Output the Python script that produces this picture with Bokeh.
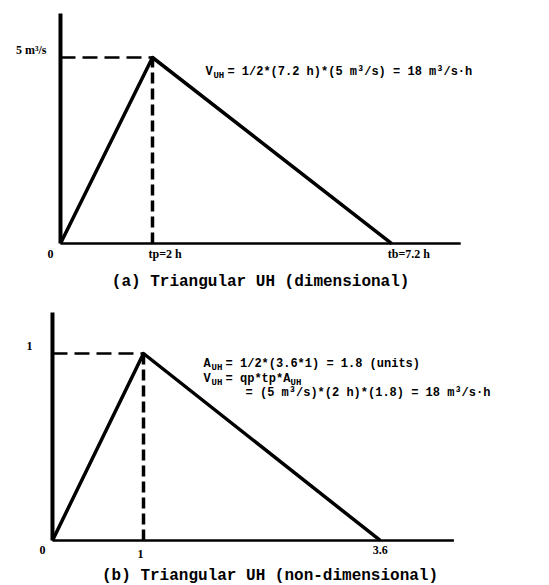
from bokeh.plotting import figure
from bokeh.models import Range1d
from bokeh.layouts import column
from bokeh.core.properties import value
from bokeh.embed import file_html
from bokeh.resources import INLINE

# Dimensional triangular unit hydrograph (hours, m3/s)
dim_t = [0, 2, 7.2]
dim_q = [0, 5, 0]
dim_tick_labels = ["0", "tp=2 h", "tb=7.2 h"]
dim_q_label = "5 m³/s"

# Non-dimensional triangular unit hydrograph (t/tp, q/qp)
nd_t = [0, 1, 3.6]
nd_q = [0, 1, 0]
nd_tick_labels = ["0", "1", "3.6"]
nd_q_label = "1"

captions = ["(a) Triangular UH (dimensional)",
            "(b) Triangular UH (non-dimensional)"]

MONO = value("Liberation Mono")
SERIF = value("Liberation Serif")


def base_fig(h, xr, yr):
    p = figure(width=549, height=h, x_range=Range1d(*xr), y_range=Range1d(*yr),
               output_backend="svg", toolbar_location=None, min_border=0,
               outline_line_color=None, background_fill_color="white",
               border_fill_color="white")
    p.xaxis.visible = False
    p.yaxis.visible = False
    p.grid.visible = False
    return p


def draw_uh(p, t, q, x_end, y_top):
    tp, qp = t[1], q[1]
    # axes
    p.line([0, 0], [0, y_top], line_width=4, color="black")
    p.line([0, x_end], [0, 0], line_width=2.5, color="black")
    # hydrograph
    p.line(t, q, line_width=3.5, color="black", line_join="round")
    # peak guides
    p.line([0, tp], [qp, qp], line_width=2.5, color="black", line_dash="15 7")
    p.line([tp, tp], [0, qp], line_width=3.5, color="black", line_dash="11 5")


def label(p, x, y, txt, dx=0, dy=0, size="12px", font=MONO, align="left"):
    p.text(x=[x], y=[y], text=[txt], x_offset=dx, y_offset=dy,
           text_align=align, text_baseline="middle", text_font=font,
           text_font_size=size, text_font_style="bold", text_color="black")


# ---- panel (a) ----
pa = base_fig(290, (-1.304, 10.63), (-1.263, 6.532))
draw_uh(pa, dim_t, dim_q, 8.7, 6.18)
label(pa, 0, 0, dim_tick_labels[0], dx=-10, dy=10, size="12px", font=SERIF, align="center")
label(pa, dim_t[1], 0, dim_tick_labels[1], dx=-4, dy=10, size="12px", font=SERIF)
label(pa, dim_t[2], 0, dim_tick_labels[2], dx=-4, dy=10, size="12px", font=SERIF)
label(pa, 0, dim_q[1], dim_q_label, dx=-14, dy=-7, size="12px", font=SERIF, align="right")
ax = 3.15
label(pa, ax, dim_q[1], "V", dy=15)
label(pa, ax, dim_q[1], "UH", dx=8, dy=19, size="9px")
label(pa, ax, dim_q[1], "= 1/2*(7.2 h)*(5 m³/s) = 18 m³/s·h", dx=22, dy=15)
label(pa, 4.35, -1.03, captions[0], size="16px", align="center")

# ---- panel (b) ----
pb = base_fig(295, (-0.571, 5.46), (-0.241, 1.337))
draw_uh(pb, nd_t, nd_q, 4.41, 1.219)
label(pb, nd_t[0], 0, nd_tick_labels[0], dx=-10, dy=10, size="12px", font=SERIF, align="center")
label(pb, nd_t[1], 0, nd_tick_labels[1], dx=-3, dy=14, size="12px", font=SERIF, align="center")
label(pb, nd_t[2], 0, nd_tick_labels[2], dy=10, size="12px", font=SERIF, align="center")
label(pb, 0, nd_q[1], nd_q_label, dx=-20, dy=-8, size="12px", font=SERIF, align="right")
bx = 1.66
label(pb, bx, nd_q[1], "A", dy=10)
label(pb, bx, nd_q[1], "UH", dx=8, dy=14, size="9px")
label(pb, bx, nd_q[1], "= 1/2*(3.6*1) = 1.8 (units)", dx=22, dy=10)
label(pb, bx, nd_q[1], "V", dy=25)
label(pb, bx, nd_q[1], "UH", dx=8, dy=29, size="9px")
label(pb, bx, nd_q[1], "= qp*tp*A", dx=22, dy=25)
label(pb, bx, nd_q[1], "UH", dx=87, dy=29, size="9px")
label(pb, bx, nd_q[1], "= (5 m³/s)*(2 h)*(1.8) = 18 m³/s·h", dx=42, dy=39)
label(pb, 2.39, -0.188, captions[1], size="16px", align="center")

layout = column(pa, pb, spacing=0)
open("out.html", "w").write(file_html(layout, INLINE))
